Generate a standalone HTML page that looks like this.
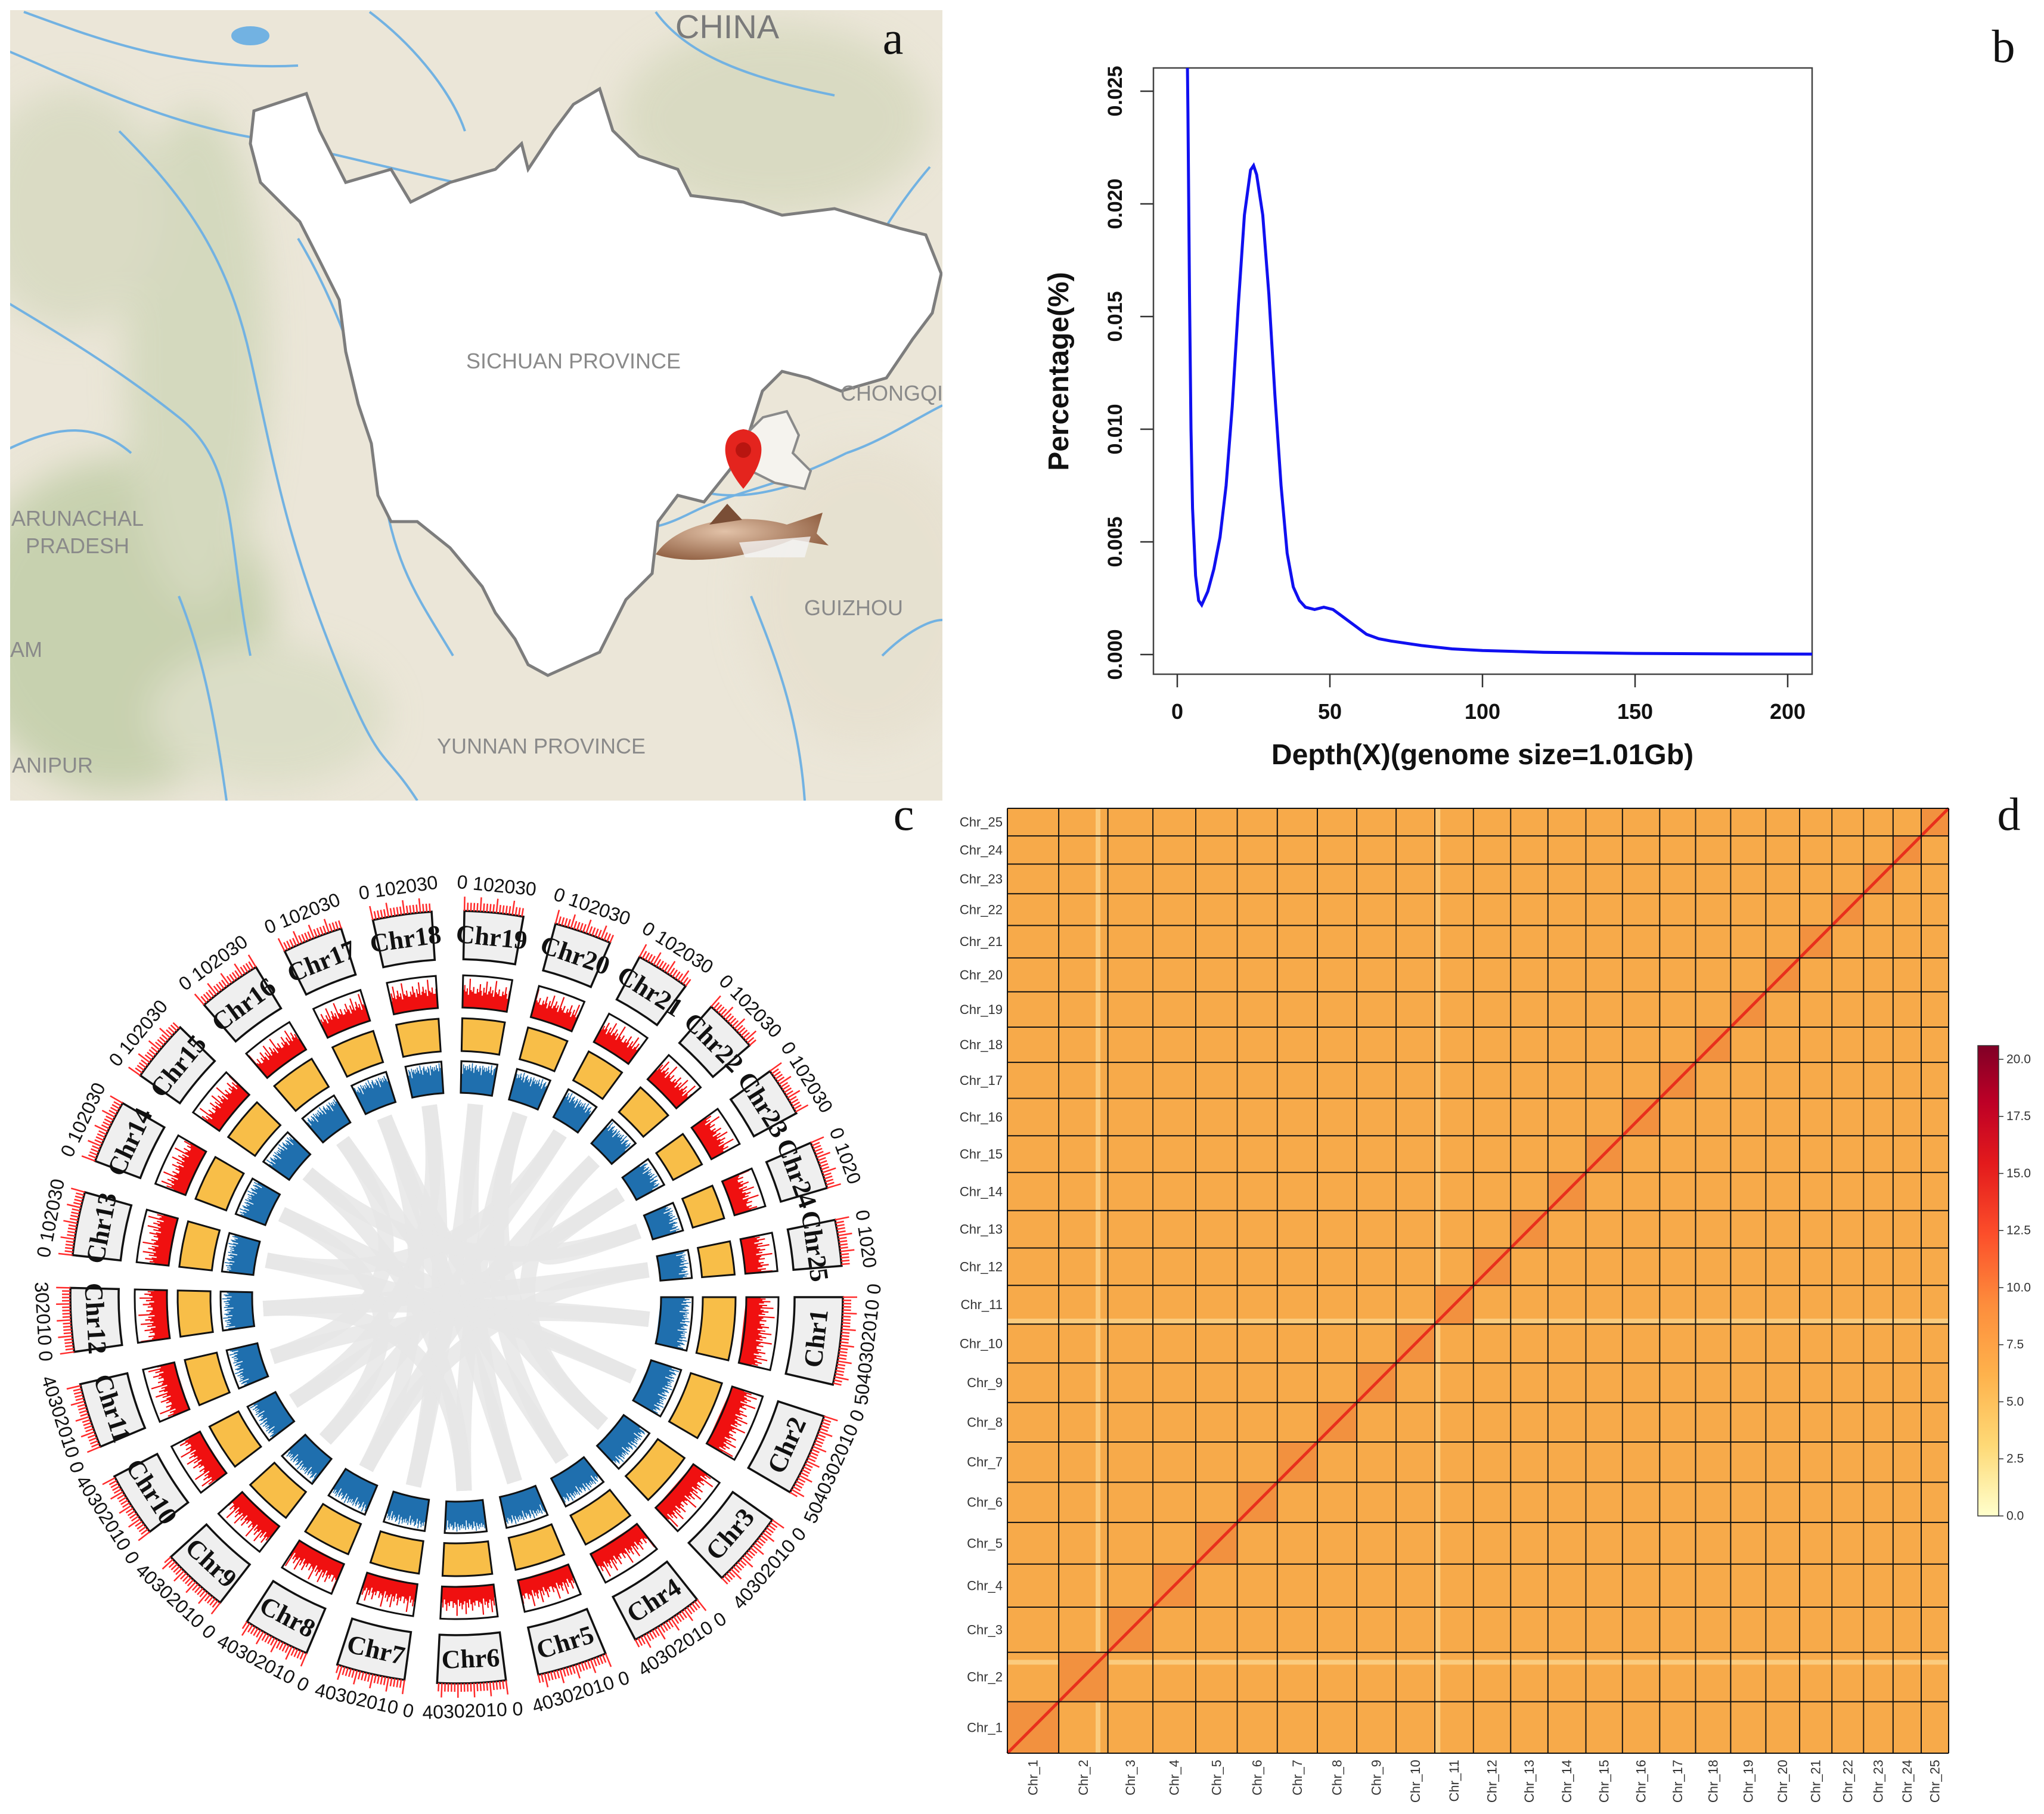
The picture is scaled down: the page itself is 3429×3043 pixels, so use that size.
<!DOCTYPE html>
<html><head><meta charset="utf-8"><title>Genome figure</title>
<style>
html,body{margin:0;padding:0;background:#fff;}
svg{display:block;}
text{font-family:"Liberation Sans",sans-serif;}
</style></head>
<body>
<svg id="fig" xmlns="http://www.w3.org/2000/svg" width="3429" height="3043" viewBox="0 0 3429 3043">
<defs>
  <filter id="blur" x="-20%" y="-20%" width="140%" height="140%"><feGaussianBlur stdDeviation="30"/></filter>
  <clipPath id="mapClip"><rect x="17" y="17" width="1564" height="1326"/></clipPath>
  <clipPath id="plotClip"><rect x="1935" y="114" width="1105" height="1017"/></clipPath>
  <linearGradient id="cbar" x1="0" y1="1" x2="0" y2="0">
    <stop offset="0" stop-color="#ffffcc"/><stop offset="0.15" stop-color="#fed976"/>
    <stop offset="0.3" stop-color="#feb24c"/><stop offset="0.45" stop-color="#fd8d3c"/>
    <stop offset="0.6" stop-color="#fc4e2a"/><stop offset="0.75" stop-color="#e31a1c"/>
    <stop offset="0.88" stop-color="#bd0026"/><stop offset="1" stop-color="#800026"/>
  </linearGradient>
  <radialGradient id="fishG" cx="0.4" cy="0.4" r="0.7"><stop offset="0" stop-color="#e2c2a8"/><stop offset="1" stop-color="#8c5a3c"/></radialGradient>
</defs>

<!-- Panel a: map -->
<g id="panel-a" clip-path="url(#mapClip)">
  <rect x="17" y="17" width="1564" height="1326" fill="#ebe6d8"/>
  <g filter="url(#blur)" opacity="0.8">
    <ellipse cx="200" cy="1050" rx="260" ry="280" fill="#bfcca5"/>
    <ellipse cx="330" cy="600" rx="120" ry="420" fill="#cfd6b8"/>
    <ellipse cx="120" cy="350" rx="160" ry="200" fill="#d6d9c0"/>
    <ellipse cx="1300" cy="200" rx="260" ry="160" fill="#d5d8bd"/>
    <ellipse cx="450" cy="1200" rx="200" ry="120" fill="#d8dcc3"/>
    <ellipse cx="1450" cy="1000" rx="200" ry="250" fill="#e6e0cf"/>
  </g>
  <g id="rivers" fill="none" stroke="#72b2e2" stroke-width="4"></g>
  <polygon id="sichuan" fill="#ffffff" stroke="#7d7d7d" stroke-width="5"/>
  <polygon id="chongqing" fill="#f5f3ee" stroke="#8a8a8a" stroke-width="4" points="1240,740 1280,700 1320,690 1340,730 1330,760 1360,790 1350,820 1300,810 1260,790"/>
  <text x="1220" y="64" font-size="56" fill="#7a7a7a" text-anchor="middle">CHINA</text>
  <text x="962" y="618" font-size="36" fill="#8a8a8a" text-anchor="middle">SICHUAN PROVINCE</text>
  <text x="1410" y="672" font-size="36" fill="#8a8a8a">CHONGQI</text>
  <text x="130" y="882" font-size="36" fill="#8a8a8a" text-anchor="middle">ARUNACHAL</text>
  <text x="130" y="928" font-size="36" fill="#8a8a8a" text-anchor="middle">PRADESH</text>
  <text x="1432" y="1032" font-size="36" fill="#8a8a8a" text-anchor="middle">GUIZHOU</text>
  <text x="908" y="1264" font-size="36" fill="#8a8a8a" text-anchor="middle">YUNNAN PROVINCE</text>
  <text x="20" y="1296" font-size="36" fill="#8a8a8a">ANIPUR</text>
  <text x="17" y="1102" font-size="36" fill="#8a8a8a">AM</text>
  <g>
    <path d="M1247,820 C1205,770 1208,725 1247,720 C1286,725 1289,770 1247,820 Z" fill="#e4241e"/>
    <circle cx="1247" cy="755" r="13" fill="#b81510"/>
  </g>
  <g>
    <path d="M1100,930 C1140,870 1250,860 1320,880 L1380,860 L1370,895 L1390,915 L1330,905 C1260,935 1160,950 1100,930 Z" fill="url(#fishG)"/>
    <path d="M1190,880 L1220,845 L1245,872 Z" fill="#7a4e36"/>
    <path d="M1240,910 L1360,900 L1350,935 L1250,935 Z" fill="#f4f4f4" opacity="0.8"/>
  </g>
  <text x="1498" y="90" font-size="78" font-family="Liberation Serif, serif" fill="#111" text-anchor="middle" style="font-family:'Liberation Serif',serif">a</text>
</g>

<!-- Panel b -->
<g id="panel-b">
  <rect x="1935" y="114" width="1105" height="1017" fill="none" stroke="#444" stroke-width="2.5"/>
  <g id="b-axes"></g>
  <path id="depth-curve" fill="none" stroke="#1010f0" stroke-width="5" clip-path="url(#plotClip)"/>
  <text x="2487" y="1282" font-size="48" font-weight="bold" text-anchor="middle" fill="#111">Depth(X)(genome size=1.01Gb)</text>
  <text transform="translate(1792,623) rotate(-90)" font-size="48" font-weight="bold" text-anchor="middle" fill="#111">Percentage(%)</text>
  <text x="3361" y="104" font-size="78" text-anchor="middle" fill="#111" style="font-family:'Liberation Serif',serif">b</text>
</g>

<!-- Panel c -->
<g id="panel-c">
  <g id="links"></g>
  <g id="circos"></g>
  <text x="1516" y="1392" font-size="78" text-anchor="middle" fill="#111" style="font-family:'Liberation Serif',serif">c</text>
</g>

<!-- Panel d -->
<g id="panel-d">
  <g id="hic"></g>
  <rect x="3318" y="1754" width="35" height="789" fill="url(#cbar)" stroke="#333" stroke-width="1.5"/>
  <g id="cbar-ticks"></g>
  <text x="3370" y="1392" font-size="78" text-anchor="middle" fill="#111" style="font-family:'Liberation Serif',serif">d</text>
</g>
</svg>

<script>
// ---------- Panel b data ----------
const depthX=[3,3.5,4,4.5,5,6,7,8,10,12,14,16,18,20,22,24,25,26,28,30,32,34,36,38,40,42,45,48,51,54,58,62,66,70,80,90,100,120,150,180,208];
const pct=[0.03,0.024,0.016,0.01,0.0065,0.0035,0.0024,0.0022,0.0028,0.0038,0.0052,0.0075,0.011,0.0155,0.0195,0.0215,0.0217,0.0213,0.0195,0.016,0.0115,0.0075,0.0045,0.003,0.0024,0.0021,0.0020,0.0021,0.0020,0.0017,0.0013,0.0009,0.0007,0.0006,0.0004,0.00025,0.00018,0.0001,0.00005,0.00003,0.00002];
const xTicks=[0,50,100,150,200];
const yTicks=[0,0.005,0.010,0.015,0.020,0.025];
const yTickLabels=["0.000","0.005","0.010","0.015","0.020","0.025"];

// ---------- Panel c data ----------
const circosLen=[55,52,48,46,44,43,43,42,42,41,41,40,40,40,39,40,38,37,37,36,34,34,31,30,29];
const circosTickLabels=["5040302010 0","5040302010 0","40302010 0","40302010 0","40302010 0","40302010 0","40302010 0","40302010 0","40302010 0","40302010 0","40302010 0","302010 0","0 102030","0 102030","0 102030","0 102030","0 102030","0 102030","0 102030","0 102030","0 102030","0 102030","0 102030","0 1020","0 1020"];
const geneDensity=[0.45,0.6,0.5,0.75,0.55,0.4,0.65,0.5,0.85,0.45,0.55,0.7,0.5,0.6,0.4,0.9,0.55,0.5,0.65,0.45];
const gcContent=[0.85,0.75,0.9,0.8,0.7,0.95,0.8,0.65,0.85,0.9,0.75,0.8,0.7,0.88,0.82,0.6,0.9,0.78,0.85,0.72];
const linkFrom=[1,2,3,4,5,6,7,8,9,10,11,12,13,14,15,16,17,18,19,20,21,22,23,24,25,3,8,12];
const linkTo=[12,14,17,16,19,20,18,22,21,23,1,25,2,9,6,11,5,10,7,4,13,3,24,15,8,20,17,6];

// ---------- Panel d data ----------
const hicLen=[73,70,64,61,59,57,57,56,56,55,55,53,53,54,52,53,51,50,50,48,46,45,42,40,39];
const hicLabels=["Chr_1","Chr_2","Chr_3","Chr_4","Chr_5","Chr_6","Chr_7","Chr_8","Chr_9","Chr_10","Chr_11","Chr_12","Chr_13","Chr_14","Chr_15","Chr_16","Chr_17","Chr_18","Chr_19","Chr_20","Chr_21","Chr_22","Chr_23","Chr_24","Chr_25"];
const cbarTicks=[0,2.5,5,7.5,10,12.5,15,17.5,20];

const NS="http://www.w3.org/2000/svg";
function mk(tag,attrs,parent){const e=document.createElementNS(NS,tag);for(const k in attrs)e.setAttribute(k,attrs[k]);parent.appendChild(e);return e;}
const svg=document.getElementById('fig');

// ---------- Map ----------
(function(){
  const S=2.187;
  const poly=[[195,85],[235,72],[245,100],[265,140],[300,130],[315,155],[345,140],[380,130],[400,110],[405,130],[425,100],[440,80],[460,68],[470,100],[490,120],[520,130],[530,150],[570,155],[600,165],[640,160],[690,175],[710,180],[722,210],[715,240],[700,260],[680,290],[645,300],[620,290],[600,285],[585,300],[575,330],[560,360],[540,385],[520,380],[505,400],[500,440],[480,460],[470,480],[460,500],[420,518],[405,510],[395,490],[380,470],[370,450],[345,420],[320,400],[300,400],[290,380],[285,340],[275,310],[265,270],[260,230],[245,200],[230,170],[200,140],[192,110]];
  document.getElementById('sichuan').setAttribute('points',poly.map(p=>(p[0]*S).toFixed(0)+','+(p[1]*S).toFixed(0)).join(' '));
  const rv=document.getElementById('rivers');
  const rivers=["M0,80 C100,120 250,200 420,230 S700,300 900,330","M40,20 C150,60 300,120 500,110","M200,220 C300,320 380,420 420,600 S480,900 560,1100 S640,1250 700,1343","M0,500 C100,560 200,620 300,700 S380,900 420,1100","M500,400 C560,500 620,650 640,800 S700,1000 760,1100","M880,440 C920,560 960,700 1000,800 S1080,900 1160,860 S1300,820 1420,760","M1000,300 C1060,420 1100,560 1140,700","M1160,820 C1220,840 1280,830 1340,810","M1560,280 C1500,350 1460,420 1420,500","M1420,760 C1480,740 1540,700 1581,680","M0,760 C80,720 150,700 220,760","M1260,1000 C1300,1100 1340,1200 1350,1343","M1480,1100 C1520,1060 1560,1040 1581,1040","M620,20 C700,80 760,160 780,220","M1100,20 C1150,90 1250,130 1400,160","M300,1000 C340,1100 360,1200 380,1343"];
  rivers.forEach(d=>{const p=mk('path',{d:d},rv);
    
    });
  mk('ellipse',{cx:420,cy:60,rx:30,ry:14,fill:'#72b2e2'},rv);
})();

// ---------- Panel b ----------
(function(){
  const bx=d=>1975+d*5.12;
  const by=v=>1098-v*37800;
  const ax=document.getElementById('b-axes');
  xTicks.forEach(t=>{
    const l=mk('line',{x1:bx(t),x2:bx(t),y1:1131,y2:1153,stroke:'#333','stroke-width':2.5},ax);
    
    
    const tx=mk('text',{x:bx(t),y:1206,'font-size':36,'font-weight':'bold','text-anchor':'middle',fill:'#111'},ax);
    
    
    tx.textContent=String(t);
  });
  yTicks.forEach((t,i)=>{
    const l=mk('line',{x1:1913,x2:1935,y1:by(t),y2:by(t),stroke:'#333','stroke-width':2.5},ax);
    
    
    const tx=mk('text',{transform:`translate(1882,${by(t)}) rotate(-90)`,'font-size':34,'font-weight':'bold','text-anchor':'middle',fill:'#111'},ax);
    
    
    tx.textContent=yTickLabels[i];
  });
  let d='';
  depthX.forEach((x,i)=>{d+=(i?'L':'M')+bx(x).toFixed(1)+','+by(pct[i]).toFixed(1);});
  document.getElementById('depth-curve').setAttribute('d',d);
})();

// ---------- Panel c ----------
(function(){
  const cx=766, cy=2176, k=0.238, g=4.87;
  const g0=document.getElementById('circos');
  const rad=a=>a*Math.PI/180;
  const P=(r,a)=>[cx+r*Math.cos(rad(a)), cy+r*Math.sin(rad(a))];
  const starts=[]; let acc=0;
  circosLen.forEach((L,i)=>{starts.push(acc*k+i*g); acc+=L;});
  function sector(r0,r1,a0,a1){
    const p1=P(r1,a0),p2=P(r1,a1),p3=P(r0,a1),p4=P(r0,a0);
    const lg=(a1-a0)>180?1:0;
    return `M${p1[0]},${p1[1]}A${r1},${r1} 0 ${lg} 1 ${p2[0]},${p2[1]}L${p3[0]},${p3[1]}A${r0},${r0} 0 ${lg} 0 ${p4[0]},${p4[1]}Z`;
  }
  function hist(r0,h,a0,L,vals,off){
    let pts=[]; pts.push(P(r0,a0));
    for(let b=0;b<L;b++){const v=vals[(off+b)%vals.length]; const aa=a0+b*k, ab=a0+(b+1)*k;
      pts.push(P(r0+h*v,aa)); pts.push(P(r0+h*v,ab));}
    pts.push(P(r0,a0+L*k));
    return 'M'+pts.map(p=>p[0].toFixed(1)+','+p[1].toFixed(1)).join('L')+'Z';
  }
  // links
  const lk=document.getElementById('links');
  linkFrom.forEach((f,i)=>{
    const t=linkTo[i];
    const a0=starts[f-1]+circosLen[f-1]*k*0.5, a1=starts[t-1]+circosLen[t-1]*k*0.5;
    const p0=P(325,a0), p1=P(325,a1);
    const p=mk('path',{d:`M${p0[0]},${p0[1]}Q${cx},${cy} ${p1[0]},${p1[1]}`,fill:'none',stroke:'#e6e6e6','stroke-width':26,'stroke-opacity':0.85},lk);
    
    
  });
  circosLen.forEach((L,i)=>{
    const a0=starts[i], a1=a0+L*k, am=(a0+a1)/2;
    const grp=mk('g',{},g0);
    
    
    // blue track
    const bl=mk('path',{d:hist(343,53,a0,L,gcContent,i*3),fill:'#1f6fae'},grp);
    
    
    const bb=mk('path',{d:sector(343,396,a0,a1),fill:'none',stroke:'#111','stroke-width':3},grp);
    
    
    // yellow track
    const yl=mk('path',{d:sector(413,468,a0,a1),fill:'#f8be48',stroke:'#111','stroke-width':3},grp);
    
    
    // red track
    const rb=mk('path',{d:sector(486,540,a0,a1),fill:'#fff',stroke:'none'},grp);
    
    
    const rh=mk('path',{d:hist(486,54,a0,L,geneDensity,i*5),fill:'#f01010'},grp);
    
    
    const rbb=mk('path',{d:sector(486,540,a0,a1),fill:'none',stroke:'#111','stroke-width':3},grp);
    
    
    // ideogram
    const id=mk('path',{d:sector(567,648,a0,a1),fill:'#efefef',stroke:'#111','stroke-width':3.5},grp);
    
    
    // ticks
    let td='';
    for(let m=0;m<=L;m+=2){const a=a0+m*k; const q0=P(648,a), q1=P(m%10===0?672:662,a); td+=`M${q0[0].toFixed(1)},${q0[1].toFixed(1)}L${q1[0].toFixed(1)},${q1[1].toFixed(1)}`;}
    const tk=mk('path',{d:td,stroke:'#ff2a2a','stroke-width':2.5,fill:'none'},grp);
    
    
    const lower=am<180;
    const rot=lower?am-90:am+90;
    const lp=P(607,am);
    const lab=mk('text',{transform:`translate(${lp[0].toFixed(1)},${lp[1].toFixed(1)}) rotate(${rot.toFixed(1)})`,'font-size':44,'font-weight':'bold','text-anchor':'middle','dominant-baseline':'central',fill:'#111',style:"font-family:'Liberation Serif',serif"},grp);
    
    
    lab.textContent='Chr'+(i+1);
    const tp=P(694,am);
    const tl=mk('text',{transform:`translate(${tp[0].toFixed(1)},${tp[1].toFixed(1)}) rotate(${rot.toFixed(1)})`,'font-size':32,'text-anchor':'middle','dominant-baseline':'central',fill:'#111'},grp);
    
    
    tl.textContent=circosTickLabels[i];
  });
})();

// ---------- Panel d ----------
(function(){
  const X0=1690,X1=3269,Y0=1356,Y1=2941;
  const tot=hicLen.reduce((a,b)=>a+b,0);
  const sx=v=>X0+v/tot*(X1-X0);
  const sy=v=>Y1-v/tot*(Y1-Y0);
  const h=document.getElementById('hic');
  const base=mk('rect',{x:X0,y:Y0,width:X1-X0,height:Y1-Y0,fill:'#f7aa4a'},h);
  
  
  const cum=[0]; hicLen.forEach(L=>cum.push(cum[cum.length-1]+L));
  // light stripes (chr_2 end, chr_11 start)
  [[1,0.75],[10,0.02]].forEach(s=>{
    const v=cum[s[0]]+hicLen[s[0]]*s[1];
    const r1=mk('rect',{x:sx(v),y:Y0,width:8,height:Y1-Y0,fill:'#fbd38a',opacity:0.8},h);
    
    
    const r2=mk('rect',{x:X0,y:sy(v)-8,width:X1-X0,height:8,fill:'#fbd38a',opacity:0.8},h);
    
    
  });
  hicLen.forEach((L,i)=>{
    const r=mk('rect',{x:sx(cum[i]),y:sy(cum[i+1]),width:sx(cum[i+1])-sx(cum[i]),height:sy(cum[i])-sy(cum[i+1]),fill:'#f2913f'},h);
    
    
  });
  const diag=mk('line',{x1:sx(0),y1:sy(0),x2:sx(tot),y2:sy(tot),stroke:'#e8301c','stroke-width':5},h);
  
  
  let gd='';
  cum.forEach(v=>{gd+=`M${sx(v).toFixed(1)},${Y0}L${sx(v).toFixed(1)},${Y1}M${X0},${sy(v).toFixed(1)}L${X1},${sy(v).toFixed(1)}`;});
  const grid=mk('path',{d:gd,stroke:'#111','stroke-width':2,fill:'none'},h);
  
  
  hicLen.forEach((L,i)=>{
    const mid=cum[i]+L/2;
    const ty=mk('text',{x:1682,y:sy(mid),'font-size':22,'text-anchor':'end','dominant-baseline':'central',fill:'#333'},h);
    
    
    ty.textContent=hicLabels[i];
    const tx=mk('text',{transform:`translate(${sx(mid).toFixed(1)},2952) rotate(-90)`,'font-size':22,'text-anchor':'end','dominant-baseline':'central',fill:'#333'},h);
    
    
    tx.textContent=hicLabels[i];
  });
  const cb=document.getElementById('cbar-ticks');
  const cy=v=>2543-v/20.6*789;
  cbarTicks.forEach(t=>{
    const l=mk('line',{x1:3353,x2:3361,y1:cy(t),y2:cy(t),stroke:'#333','stroke-width':1.5},cb);
    
    
    const tx=mk('text',{x:3366,y:cy(t),'font-size':21,'dominant-baseline':'central',fill:'#333'},cb);
    
    
    tx.textContent=t.toFixed(1);
  });
})();
</script>
</body></html>
